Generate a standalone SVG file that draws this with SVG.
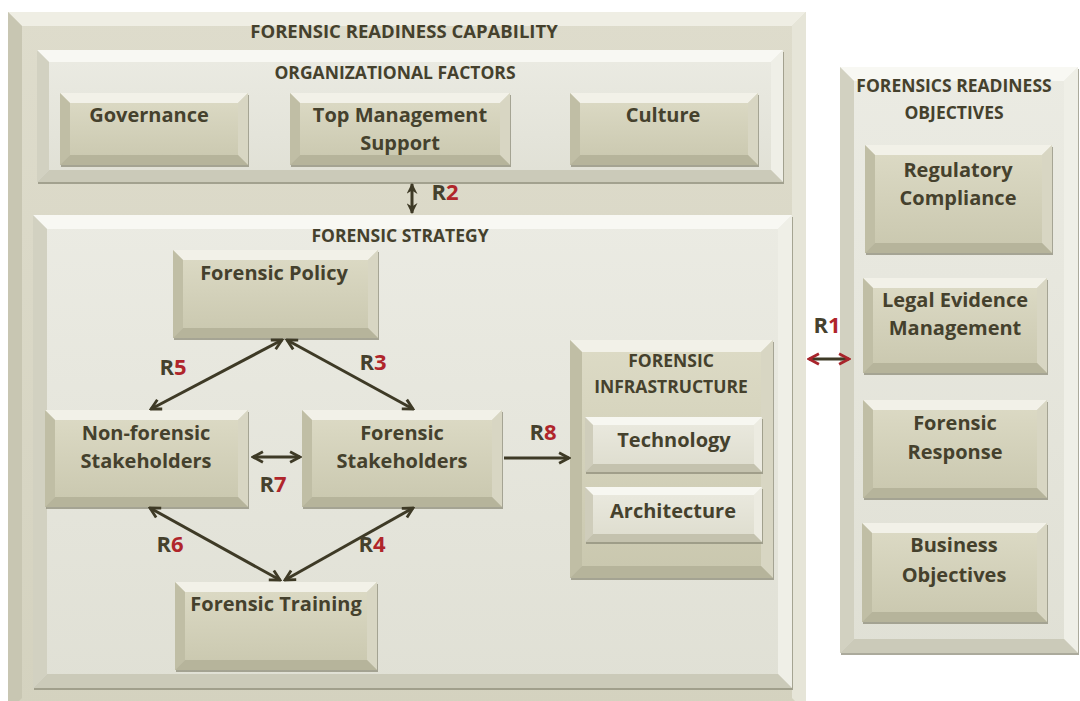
<svg xmlns="http://www.w3.org/2000/svg" width="1080" height="701" viewBox="0 0 1080 701">
  <defs>
    <linearGradient id="gNode" x1="0" y1="0" x2="0" y2="1">
      <stop offset="0" stop-color="#dddbc6"/>
      <stop offset="1" stop-color="#c9c7ae"/>
    </linearGradient>
    <linearGradient id="gLight" x1="0" y1="0" x2="0" y2="1">
      <stop offset="0" stop-color="#ebebe3"/>
      <stop offset="1" stop-color="#e0e0d5"/>
    </linearGradient>
    <linearGradient id="gSub" x1="0" y1="0" x2="0" y2="1">
      <stop offset="0" stop-color="#ebeae0"/>
      <stop offset="1" stop-color="#dddccd"/>
    </linearGradient>
    <linearGradient id="gOuter" x1="0" y1="0" x2="0" y2="1">
      <stop offset="0" stop-color="#dedccc"/>
      <stop offset="1" stop-color="#d4d2bf"/>
    </linearGradient>
    <marker id="head" viewBox="0 0 12 12" refX="10.5" refY="6" markerWidth="14" markerHeight="14" markerUnits="userSpaceOnUse" orient="auto-start-reverse">
      <path d="M2,1.5 L10.5,6 L2,10.5" fill="none" stroke="#3e3a26" stroke-width="2.4" stroke-linejoin="miter"/>
    </marker>
    <marker id="headRed" viewBox="0 0 12 12" refX="10.5" refY="6" markerWidth="14" markerHeight="14" markerUnits="userSpaceOnUse" orient="auto-start-reverse">
      <path d="M2,1.5 L10.5,6 L2,10.5" fill="none" stroke="#a8242b" stroke-width="2.4" stroke-linejoin="miter"/>
    </marker>
    <marker id="headSolid" viewBox="0 0 10 10" refX="9" refY="5" markerWidth="11" markerHeight="11" markerUnits="userSpaceOnUse" orient="auto-start-reverse">
      <path d="M0,0 L10,5 L0,10 L3,5 Z" fill="#3e3a26"/>
    </marker>
  </defs>
  <style>
    text { font-family: "Open Sans", "Liberation Sans", sans-serif; font-weight: 700; fill: #45412d; text-anchor: middle; }
    .hd { font-size: 17.5px; }
    .hd-main { font-size: 18.5px; }
    .lb { font-size: 20px; }
    .rl { font-size: 22px; }
    .num { fill: #b0252b; }
    .sh { fill: #8f8d7b; opacity: 0.75; }
    /* darker raised tiles */
    .nf { fill: url(#gNode); }
    .nt { fill: #f2f1e8; }
    .nl { fill: #c0bea5; }
    .nr { fill: #d8d6c3; }
    .nb { fill: #b6b49b; }
    /* light container panels */
    .lf { fill: url(#gLight); }
    .lt { fill: #f8f8f3; }
    .ll { fill: #d2d1c1; }
    .lr { fill: #efefe7; }
    .lbv { fill: #cbcab9; }
    /* light sub-tiles */
    .sf { fill: url(#gSub); }
    .st { fill: #f7f7f1; }
    .sl { fill: #cfcdbb; }
    .sr { fill: #ecebe1; }
    .sb { fill: #c4c2ae; }
    /* outer frame */
    .of { fill: url(#gOuter); }
    .ot { fill: #efeee4; }
    .ol { fill: #c8c6b2; }
    .or { fill: #e6e5d8; }
    .conn { fill: none; stroke: #3e3a26; stroke-width: 3; }
  </style>

  <rect width="1080" height="701" fill="#ffffff"/>

  <!-- outer frame: forensic readiness capability -->
  <g id="capability">
    <rect class="of" x="8" y="12" width="798" height="700"/>
    <polygon class="ot" points="8,12 806,12 792,26 22,26"/>
    <polygon class="ol" points="8,12 22,26 22,698 8,712"/>
    <polygon class="or" points="806,12 806,712 792,698 792,26"/>
    <text class="hd-main" x="404" y="38">FORENSIC READINESS CAPABILITY</text>
  </g>

  <!-- organizational factors panel -->
  <g id="org-factors">
    <rect class="sh" x="38" y="52" width="746" height="132"/>
    <rect class="lf" x="37" y="50" width="746" height="132"/>
    <polygon class="lt" points="37,50 783,50 771,62 49,62"/>
    <polygon class="ll" points="37,50 49,62 49,170 37,182"/>
    <polygon class="lr" points="783,50 783,182 771,170 771,62"/>
    <polygon class="lbv" points="37,182 49,170 771,170 783,182"/>
    <text class="hd" x="395" y="79">ORGANIZATIONAL FACTORS</text>
  </g>

  <g id="governance">
    <rect class="sh" x="61" y="95" width="188" height="72"/>
    <rect class="nf" x="60" y="93" width="188" height="72"/>
    <polygon class="nt" points="60,93 248,93 238,103 70,103"/>
    <polygon class="nl" points="60,93 70,103 70,155 60,165"/>
    <polygon class="nr" points="248,93 248,165 238,155 238,103"/>
    <polygon class="nb" points="60,165 70,155 238,155 248,165"/>
    <text class="lb" x="149" y="122">Governance</text>
  </g>

  <g id="top-management">
    <rect class="sh" x="291" y="95" width="220" height="72"/>
    <rect class="nf" x="290" y="93" width="220" height="72"/>
    <polygon class="nt" points="290,93 510,93 500,103 300,103"/>
    <polygon class="nl" points="290,93 300,103 300,155 290,165"/>
    <polygon class="nr" points="510,93 510,165 500,155 500,103"/>
    <polygon class="nb" points="290,165 300,155 500,155 510,165"/>
    <text class="lb" x="400" y="122">Top Management</text>
    <text class="lb" x="400" y="150">Support</text>
  </g>

  <g id="culture">
    <rect class="sh" x="571" y="95" width="188" height="72"/>
    <rect class="nf" x="570" y="93" width="188" height="72"/>
    <polygon class="nt" points="570,93 758,93 748,103 580,103"/>
    <polygon class="nl" points="570,93 580,103 580,155 570,165"/>
    <polygon class="nr" points="758,93 758,165 748,155 748,103"/>
    <polygon class="nb" points="570,165 580,155 748,155 758,165"/>
    <text class="lb" x="663" y="122">Culture</text>
  </g>

  <!-- forensic strategy panel -->
  <g id="strategy">
    <rect class="sh" x="34" y="217" width="759" height="473"/>
    <rect class="lf" x="33" y="215" width="759" height="473"/>
    <polygon class="lt" points="33,215 792,215 778,229 47,229"/>
    <polygon class="ll" points="33,215 47,229 47,674 33,688"/>
    <polygon class="lr" points="792,215 792,688 778,674 778,229"/>
    <polygon class="lbv" points="33,688 47,674 778,674 792,688"/>
    <text class="hd" x="400" y="242">FORENSIC STRATEGY</text>
  </g>

  <g id="policy">
    <rect class="sh" x="174" y="252" width="205" height="88"/>
    <rect class="nf" x="173" y="250" width="205" height="88"/>
    <polygon class="nt" points="173,250 378,250 368,260 183,260"/>
    <polygon class="nl" points="173,250 183,260 183,328 173,338"/>
    <polygon class="nr" points="378,250 378,338 368,328 368,260"/>
    <polygon class="nb" points="173,338 183,328 368,328 378,338"/>
    <text class="lb" x="274" y="280">Forensic Policy</text>
  </g>

  <g id="non-forensic">
    <rect class="sh" x="46" y="412" width="203" height="97"/>
    <rect class="nf" x="45" y="410" width="203" height="97"/>
    <polygon class="nt" points="45,410 248,410 238,420 55,420"/>
    <polygon class="nl" points="45,410 55,420 55,497 45,507"/>
    <polygon class="nr" points="248,410 248,507 238,497 238,420"/>
    <polygon class="nb" points="45,507 55,497 238,497 248,507"/>
    <text class="lb" x="146" y="440">Non-forensic</text>
    <text class="lb" x="146" y="468">Stakeholders</text>
  </g>

  <g id="forensic-stakeholders">
    <rect class="sh" x="303" y="412" width="200" height="97"/>
    <rect class="nf" x="302" y="410" width="200" height="97"/>
    <polygon class="nt" points="302,410 502,410 492,420 312,420"/>
    <polygon class="nl" points="302,410 312,420 312,497 302,507"/>
    <polygon class="nr" points="502,410 502,507 492,497 492,420"/>
    <polygon class="nb" points="302,507 312,497 492,497 502,507"/>
    <text class="lb" x="402" y="440">Forensic</text>
    <text class="lb" x="402" y="468">Stakeholders</text>
  </g>

  <g id="training">
    <rect class="sh" x="176" y="584" width="202" height="88"/>
    <rect class="nf" x="175" y="582" width="202" height="88"/>
    <polygon class="nt" points="175,582 377,582 367,592 185,592"/>
    <polygon class="nl" points="175,582 185,592 185,660 175,670"/>
    <polygon class="nr" points="377,582 377,670 367,660 367,592"/>
    <polygon class="nb" points="175,670 185,660 367,660 377,670"/>
    <text class="lb" x="276" y="611">Forensic Training</text>
  </g>

  <g id="infrastructure">
    <rect class="sh" x="571" y="342" width="203" height="238"/>
    <rect class="nf" x="570" y="340" width="203" height="238"/>
    <polygon class="nt" points="570,340 773,340 761,352 582,352"/>
    <polygon class="nl" points="570,340 582,352 582,566 570,578"/>
    <polygon class="nr" points="773,340 773,578 761,566 761,352"/>
    <polygon class="nb" points="570,578 582,566 761,566 773,578"/>
    <text class="hd" x="671" y="367">FORENSIC</text>
    <text class="hd" x="671" y="393">INFRASTRUCTURE</text>
  </g>

  <g id="technology">
    <rect class="sh" x="586" y="419" width="177" height="55"/>
    <rect class="sf" x="585" y="417" width="177" height="55"/>
    <polygon class="st" points="585,417 762,417 754,425 593,425"/>
    <polygon class="sl" points="585,417 593,425 593,464 585,472"/>
    <polygon class="sr" points="762,417 762,472 754,464 754,425"/>
    <polygon class="sb" points="585,472 593,464 754,464 762,472"/>
    <text class="lb" x="674" y="447">Technology</text>
  </g>

  <g id="architecture">
    <rect class="sh" x="586" y="489" width="177" height="55"/>
    <rect class="sf" x="585" y="487" width="177" height="55"/>
    <polygon class="st" points="585,487 762,487 754,495 593,495"/>
    <polygon class="sl" points="585,487 593,495 593,534 585,542"/>
    <polygon class="sr" points="762,487 762,542 754,534 754,495"/>
    <polygon class="sb" points="585,542 593,534 754,534 762,542"/>
    <text class="lb" x="673" y="518">Architecture</text>
  </g>

  <!-- objectives panel -->
  <g id="objectives">
    <rect class="sh" x="841" y="69" width="238" height="586"/>
    <rect class="lf" x="840" y="67" width="238" height="586"/>
    <polygon class="lt" points="840,67 1078,67 1064,81 854,81"/>
    <polygon class="ll" points="840,67 854,81 854,639 840,653"/>
    <polygon class="lr" points="1078,67 1078,653 1064,639 1064,81"/>
    <polygon class="lbv" points="840,653 854,639 1064,639 1078,653"/>
    <text class="hd" x="954" y="92">FORENSICS READINESS</text>
    <text class="hd" x="954" y="119">OBJECTIVES</text>
  </g>

  <g id="regulatory">
    <rect class="sh" x="866" y="147" width="187" height="108"/>
    <rect class="nf" x="865" y="145" width="187" height="108"/>
    <polygon class="nt" points="865,145 1052,145 1042,155 875,155"/>
    <polygon class="nl" points="865,145 875,155 875,243 865,253"/>
    <polygon class="nr" points="1052,145 1052,253 1042,243 1042,155"/>
    <polygon class="nb" points="865,253 875,243 1042,243 1052,253"/>
    <text class="lb" x="958" y="177">Regulatory</text>
    <text class="lb" x="958" y="205">Compliance</text>
  </g>

  <g id="legal-evidence">
    <rect class="sh" x="864" y="280" width="184" height="95"/>
    <rect class="nf" x="863" y="278" width="184" height="95"/>
    <polygon class="nt" points="863,278 1047,278 1037,288 873,288"/>
    <polygon class="nl" points="863,278 873,288 873,363 863,373"/>
    <polygon class="nr" points="1047,278 1047,373 1037,363 1037,288"/>
    <polygon class="nb" points="863,373 873,363 1037,363 1047,373"/>
    <text class="lb" x="955" y="307">Legal Evidence</text>
    <text class="lb" x="955" y="335">Management</text>
  </g>

  <g id="response">
    <rect class="sh" x="864" y="402" width="184" height="98"/>
    <rect class="nf" x="863" y="400" width="184" height="98"/>
    <polygon class="nt" points="863,400 1047,400 1037,410 873,410"/>
    <polygon class="nl" points="863,400 873,410 873,488 863,498"/>
    <polygon class="nr" points="1047,400 1047,498 1037,488 1037,410"/>
    <polygon class="nb" points="863,498 873,488 1037,488 1047,498"/>
    <text class="lb" x="955" y="430">Forensic</text>
    <text class="lb" x="955" y="459">Response</text>
  </g>

  <g id="business">
    <rect class="sh" x="863" y="525" width="185" height="99"/>
    <rect class="nf" x="862" y="523" width="185" height="99"/>
    <polygon class="nt" points="862,523 1047,523 1037,533 872,533"/>
    <polygon class="nl" points="862,523 872,533 872,612 862,622"/>
    <polygon class="nr" points="1047,523 1047,622 1037,612 1037,533"/>
    <polygon class="nb" points="862,622 872,612 1037,612 1047,622"/>
    <text class="lb" x="954" y="552">Business</text>
    <text class="lb" x="954" y="582">Objectives</text>
  </g>

  <!-- relations -->
  <g id="connectors">
    <line class="conn" x1="412" y1="184" x2="412" y2="213" stroke-width="3.5" marker-start="url(#headSolid)" marker-end="url(#headSolid)"/>
    <line class="conn" x1="282" y1="340" x2="151" y2="409" marker-start="url(#head)" marker-end="url(#head)"/>
    <line class="conn" x1="287" y1="340" x2="413" y2="409" marker-start="url(#head)" marker-end="url(#head)"/>
    <line class="conn" x1="150" y1="508" x2="280" y2="580" marker-start="url(#head)" marker-end="url(#head)"/>
    <line class="conn" x1="413" y1="508" x2="285" y2="580" marker-start="url(#head)" marker-end="url(#head)"/>
    <line class="conn" x1="253" y1="457" x2="300" y2="457" marker-start="url(#head)" marker-end="url(#head)"/>
    <line class="conn" x1="504" y1="458" x2="569" y2="458" marker-end="url(#head)"/>
    <line class="conn" x1="809" y1="359" x2="849" y2="359" stroke="#a8242b" marker-start="url(#headRed)" marker-end="url(#headRed)"/>
  </g>

  <!-- relation labels -->
  <g id="labels">
    <text class="rl" x="445" y="200">R<tspan class="num">2</tspan></text>
    <text class="rl" x="827" y="333">R<tspan class="num">1</tspan></text>
    <text class="rl" x="173" y="375">R<tspan class="num">5</tspan></text>
    <text class="rl" x="373" y="370">R<tspan class="num">3</tspan></text>
    <text class="rl" x="273" y="492">R<tspan class="num">7</tspan></text>
    <text class="rl" x="543" y="440">R<tspan class="num">8</tspan></text>
    <text class="rl" x="170" y="552">R<tspan class="num">6</tspan></text>
    <text class="rl" x="372" y="552">R<tspan class="num">4</tspan></text>
  </g>
</svg>
